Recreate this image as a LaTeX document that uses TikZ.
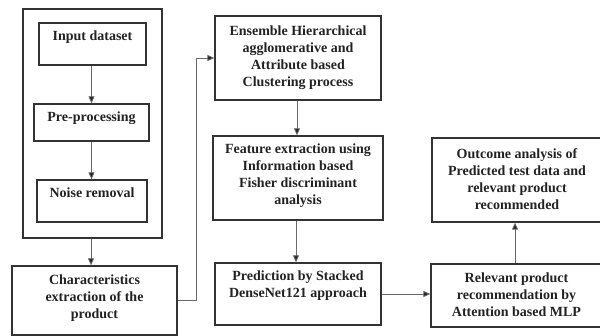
\documentclass[tikz,border=0pt]{standalone}
\usepackage{fontspec}
\setmainfont{Liberation Serif}
\usetikzlibrary{arrows.meta}
\definecolor{bord}{HTML}{333333}
\definecolor{conn}{HTML}{6A6A6A}
\definecolor{txtc}{HTML}{222222}
\tikzset{
  box/.style={draw=bord, line width=1.3pt, inner sep=0pt, fill=none},
  txt/.style={font=\bfseries\fontsize{14}{17}\selectfont, text=txtc, align=center, inner sep=0pt},
  arr/.style={draw=conn, line width=0.8pt, -{Triangle[length=7pt,width=6pt,fill=black!85]}},
}
\begin{document}
\begin{tikzpicture}[x=1pt,y=-1pt]
\useasboundingbox (0,0) rectangle (600,336);
% left group
\node[box, minimum width=139pt, minimum height=229pt] (outer) at (92.5,123.5) {};
\node[box, minimum width=107pt, minimum height=42pt] (in) at (92.5,44) {};
\node[txt] (inT) at (92.5,37) {Input dataset};
\node[box, minimum width=115pt, minimum height=37pt] (pre) at (91.5,122.5) {};
\node[txt] (preT) at (91.5,118) {Pre-processing};
\node[box, minimum width=110pt, minimum height=42pt] (noise) at (92,201) {};
\node[txt] (noiseT) at (92,193) {Noise removal};
\node[box, minimum width=165pt, minimum height=69pt] (char) at (94.5,300.5) {};
\node[txt] (charT) at (94.5,298) {Characteristics\\extraction of the\\product};
% middle column
\node[box, minimum width=166pt, minimum height=84pt] (ens) at (298,58) {};
\node[txt] (ensT) at (298,57.5) {Ensemble Hierarchical\\agglomerative and\\Attribute based\\Clustering process};
\node[box, minimum width=170pt, minimum height=84pt] (feat) at (298,178) {};
\node[txt] (featT) at (298,175.5) {Feature extraction using\\Information based\\Fisher discriminant\\analysis};
\node[box, minimum width=166pt, minimum height=62pt] (pred) at (298,294) {};
\node[txt] (predT) at (298,285.5) {Prediction by Stacked\\DenseNet121 approach};
% right column
\node[box, minimum width=170pt, minimum height=84pt] (out) at (517,180) {};
\node[txt] (outT) at (517,179) {Outcome analysis of\\Predicted test data and\\relevant product\\recommended};
\node[box, minimum width=171pt, minimum height=63pt] (rel) at (516.5,295.5) {};
\node[txt] (relT) at (516.5,295) {Relevant product\\recommendation by\\Attention based MLP};
% connectors
\draw[arr] (in.south -| pre.north) -- (pre.north);
\draw[arr] (pre.south) -- (pre.south |- noise.north);
\draw[arr] (outer.south -| 91,0) -- (char.north -| 91,0);
\draw[arr] (char.east) -- ++(19,0) |- (ens.west);
\draw[arr] (ens.south -| 297,0) -- (feat.north -| 297,0);
\draw[arr] (feat.south -| 296,0) -- (pred.north -| 296,0);
\draw[arr] (pred.east) -- (rel.west |- pred.east);
\draw[arr] (rel.north -| 515,0) -- (out.south -| 515,0);
\end{tikzpicture}
\end{document}
